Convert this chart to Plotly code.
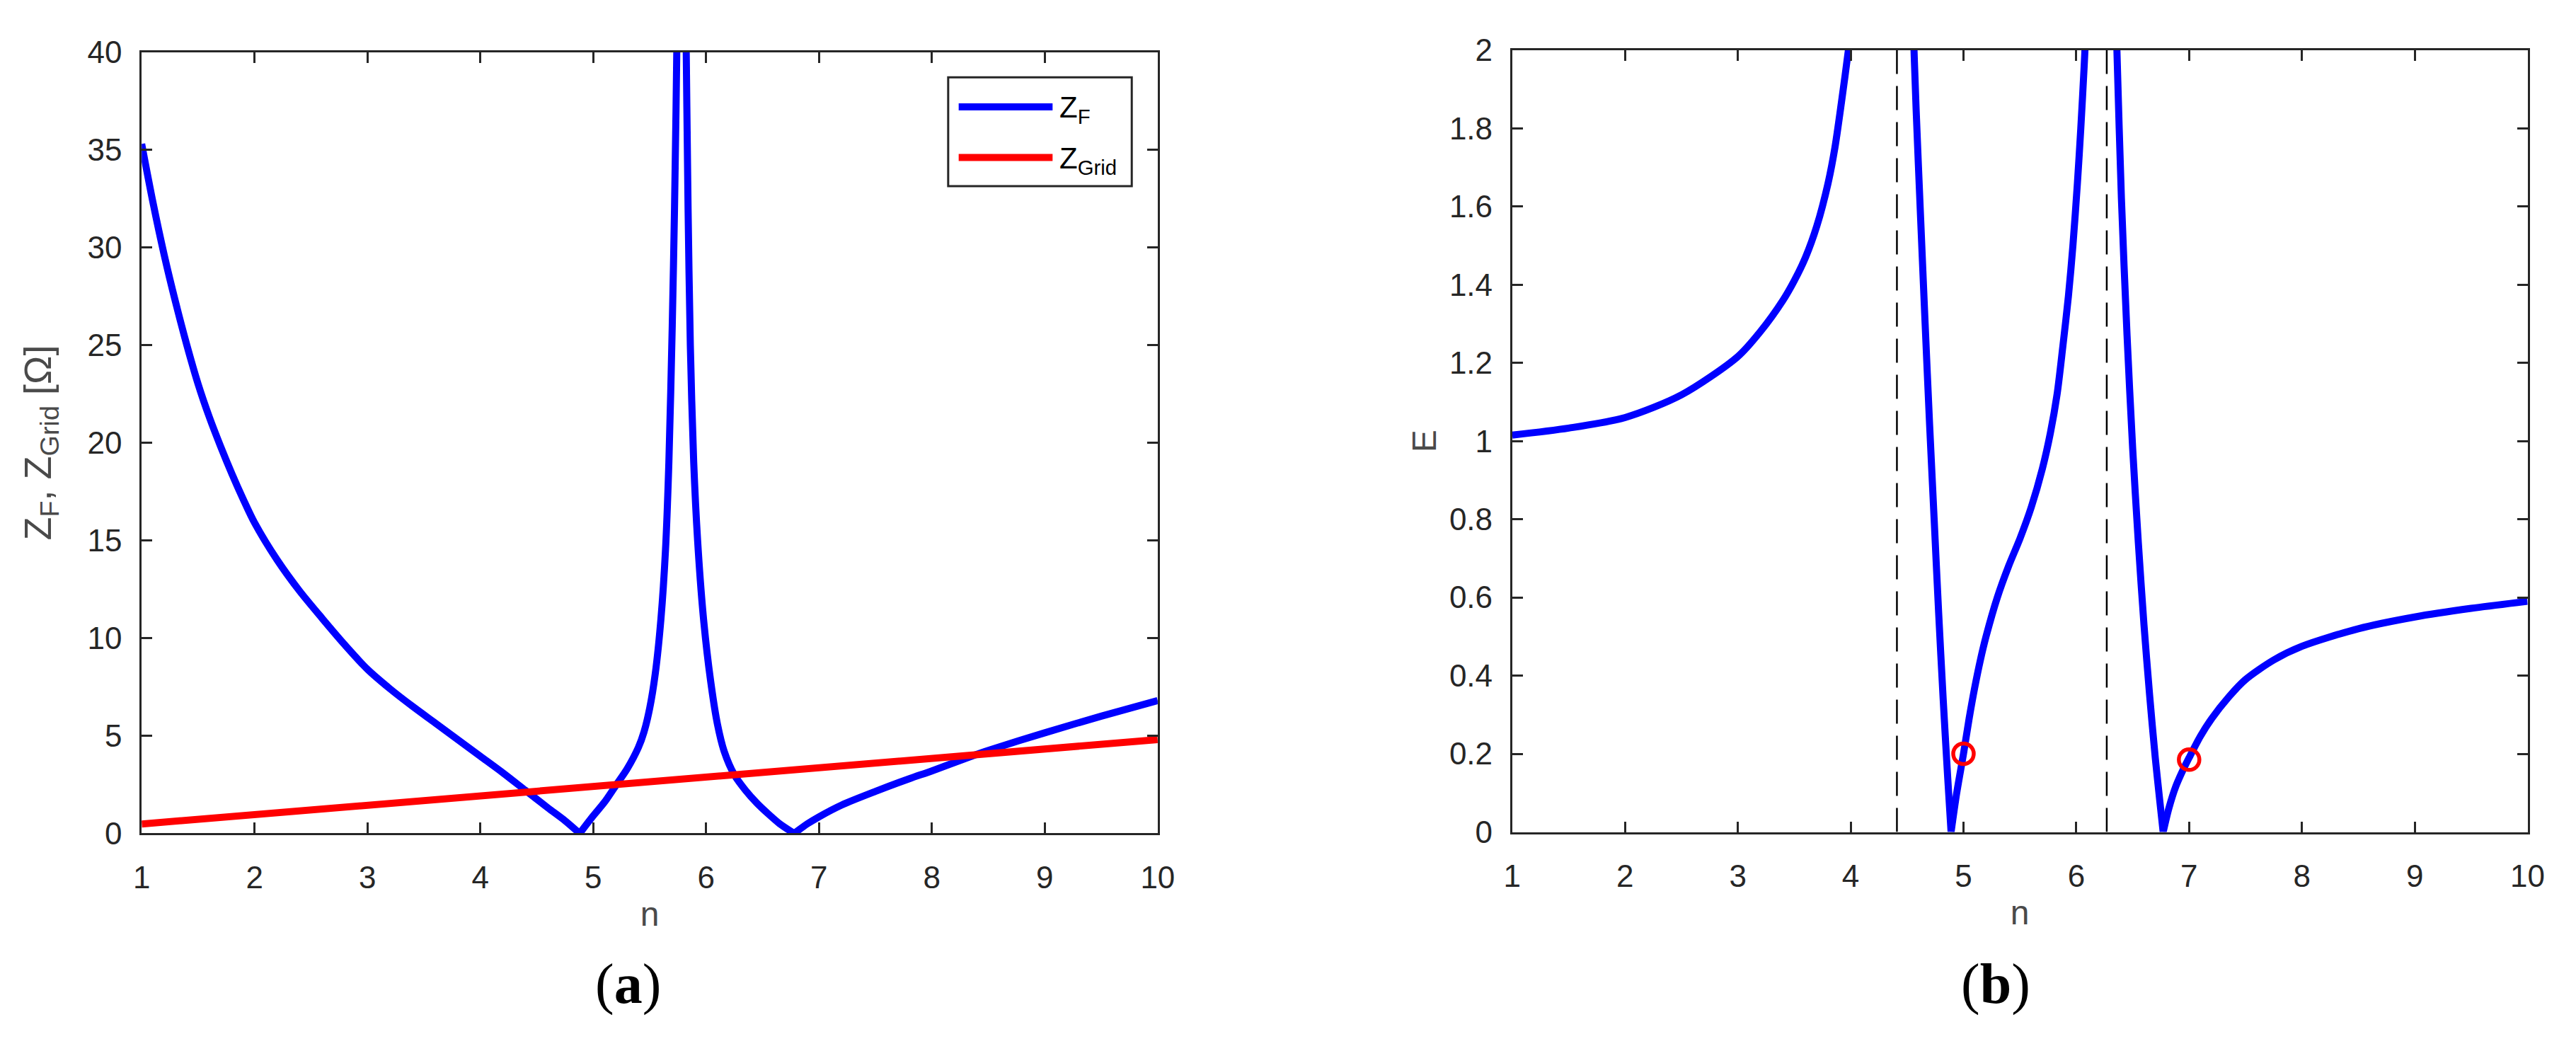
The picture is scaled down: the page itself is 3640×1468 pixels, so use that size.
import plotly.graph_objects as go

# ---- panel (a): impedances vs n ----
n_zf = [1.0, 1.1, 1.2, 1.3, 1.4, 1.5, 1.6, 1.7, 1.8, 1.9, 2.0, 2.2, 2.4, 2.6, 2.8, 3.0, 3.2, 3.4, 3.6, 3.8,
        4.0, 4.2, 4.4, 4.6, 4.75, 4.88,
        5.0, 5.1, 5.2, 5.3, 5.4, 5.45, 5.5, 5.55, 5.6, 5.64, 5.67, 5.70, 5.72, 5.74, 5.77,
        5.80, 5.82, 5.84, 5.86, 5.89, 5.93, 5.98, 6.04, 6.1, 6.16, 6.25, 6.35, 6.45, 6.55, 6.65, 6.78,
        6.9, 7.0, 7.2, 7.5, 7.8, 8.0, 8.35, 8.5, 9.0, 9.5, 10.0]
z_f = [35.3, 32.3, 29.6, 27.2, 25.0, 23.0, 21.3, 19.8, 18.4, 17.1, 15.9, 14.0, 12.4, 11.0, 9.65, 8.4, 7.4,
       6.5, 5.65, 4.8, 3.95, 3.1, 2.2, 1.3, 0.65, 0.0,
       0.9, 1.6, 2.45, 3.3, 4.4, 5.2, 6.4, 8.2, 11.0, 14.5, 19.0, 26.0, 32.0, 40.0, 60.0,
       52.0, 42.0, 32.0, 25.0, 19.0, 14.5, 10.8, 7.8, 5.6, 4.2, 3.0, 2.2, 1.55, 1.0, 0.5, 0.0,
       0.5, 0.85, 1.45, 2.15, 2.8, 3.2, 3.95, 4.25, 5.15, 6.0, 6.8]

n_grid = [1, 2, 3, 4, 5, 6, 7, 8, 9, 10]
z_grid = [0.48, 0.96, 1.44, 1.92, 2.40, 2.88, 3.36, 3.84, 4.32, 4.80]

# ---- panel (b): E vs n ----
n_e1 = [1.0, 1.5, 2.0, 2.5, 3.0, 3.2, 3.4, 3.5, 3.6, 3.7, 3.8, 3.86, 3.92, 3.98, 4.02]
e_1 = [1.015, 1.033, 1.06, 1.118, 1.216, 1.28, 1.36, 1.41, 1.47, 1.55, 1.66, 1.75, 1.87, 2.0, 2.1]
n_e2 = [4.53, 4.55, 4.58, 4.62, 4.66, 4.70, 4.74, 4.78, 4.82, 4.86, 4.89,
        4.94, 5.0, 5.05, 5.1, 5.15, 5.2, 5.3, 5.4, 5.5, 5.6, 5.7, 5.77, 5.83, 5.88, 5.93, 5.97,
        6.01, 6.04, 6.07, 6.09]
e_2 = [2.3, 2.1, 1.85, 1.57, 1.3, 1.04, 0.8, 0.56, 0.34, 0.14, 0.0,
       0.1, 0.2, 0.29, 0.37, 0.44, 0.5, 0.6, 0.68, 0.75, 0.83, 0.93, 1.02, 1.12, 1.24, 1.37, 1.5,
       1.66, 1.8, 1.96, 2.08]
n_e3 = [6.34, 6.36, 6.40, 6.45, 6.50, 6.55, 6.60, 6.65, 6.70, 6.74, 6.77,
        6.82, 6.88, 6.94, 7.0, 7.1, 7.2, 7.35, 7.5, 7.75, 8.0, 8.5, 9.0, 9.5, 10.0]
e_3 = [2.2, 2.0, 1.62, 1.27, 0.98, 0.74, 0.53, 0.35, 0.19, 0.08, 0.0,
       0.06, 0.115, 0.155, 0.19, 0.245, 0.29, 0.345, 0.39, 0.44, 0.475, 0.52, 0.55, 0.572, 0.59]

n_marks = [5.0, 7.0]
e_marks = [0.2, 0.185]

n_dash = [4.41, 6.27]

BLUE = "#0000ff"
RED = "#ff0000"
AX = "#262626"
W, H = 3640, 1468


def pieces(xs, ys):
    # cut a curve at its cusps (zeros) and at its peak so every piece stays smooth
    ymax = max(ys)
    cuts = [i for i, v in enumerate(ys) if (v == 0 or v == ymax) and 0 < i < len(ys) - 1]
    out, s = [], 0
    for c in cuts:
        out.append((xs[s:c + 1], ys[s:c + 1]))
        s = c
    out.append((xs[s:], ys[s:]))
    return out


fig = go.Figure()

for px_, py_ in pieces(n_zf, z_f):
    fig.add_trace(go.Scatter(x=px_, y=py_, mode="lines",
                             line=dict(color=BLUE, width=10, shape="spline", smoothing=0.8),
                             xaxis="x", yaxis="y", showlegend=False))
fig.add_trace(go.Scatter(x=n_grid, y=z_grid, mode="lines", line=dict(color=RED, width=10),
                         xaxis="x", yaxis="y", showlegend=False))

for xd in n_dash:
    fig.add_trace(go.Scatter(x=[xd, xd], y=[0, 2], mode="lines",
                             line=dict(color="#000000", width=2.5, dash="34px,17px"),
                             xaxis="x2", yaxis="y2", showlegend=False))

for nn, ee in [(n_e1, e_1), (n_e2, e_2), (n_e3, e_3)]:
    for px_, py_ in pieces(nn, ee):
        fig.add_trace(go.Scatter(x=px_, y=py_, mode="lines",
                                 line=dict(color=BLUE, width=10, shape="spline", smoothing=0.8),
                                 xaxis="x2", yaxis="y2", showlegend=False))

fig.add_trace(go.Scatter(x=n_marks, y=e_marks, mode="markers",
                         marker=dict(symbol="circle-open", size=29, color=RED, line=dict(width=5.5)),
                         xaxis="x2", yaxis="y2", showlegend=False))

tickfont = dict(family="Liberation Sans, Arial", size=44, color=AX)
titlefont = dict(family="Liberation Sans, Arial", size=54, color="#4a4a4a")
common = dict(showline=True, linewidth=3, linecolor=AX, mirror="ticks", ticks="inside",
              ticklen=15, tickwidth=2.5, tickcolor=AX, showgrid=False, zeroline=False,
              tickfont=tickfont)

fig.update_layout(
    width=W, height=H, margin=dict(l=0, r=0, t=0, b=0),
    paper_bgcolor="white", plot_bgcolor="white",
    xaxis=dict(common, domain=[182 / W, 1632 / W], range=[1, 10], tickvals=n_grid,
               ticklabelstandoff=22, anchor="y",
               title=dict(text="n", font=dict(titlefont, size=48), standoff=12)),
    yaxis=dict(common, domain=[1 - 1184 / H, 1 - 42 / H], range=[0, 40], dtick=5,
               ticklabelstandoff=16, anchor="x",
               title=dict(text="Z<sub>F</sub>, Z<sub>Grid</sub> [Ω]", font=titlefont, standoff=34)),
    xaxis2=dict(common, domain=[2138 / W, 3587 / W], range=[1, 10], tickvals=n_grid,
                ticklabelstandoff=22, anchor="y2",
                title=dict(text="n", font=dict(titlefont, size=48), standoff=12)),
    yaxis2=dict(common, domain=[1 - 1182 / H, 1 - 39 / H], range=[0, 2], dtick=0.2,
                ticklabelstandoff=16, anchor="x2",
                title=dict(text="E", font=dict(titlefont, size=48), standoff=4)),
)

# legend of panel (a), drawn by hand to match the long line samples
fig.add_shape(type="rect", xref="paper", yref="paper",
              x0=1333 / W, x1=1595 / W, y0=1 - 238 / H, y1=1 - 79 / H,
              line=dict(color=AX, width=3), fillcolor="white")
for ly, col, lab in [(122, BLUE, "Z<sub>F</sub>"), (196, RED, "Z<sub>Grid</sub>")]:
    fig.add_shape(type="line", xref="paper", yref="paper",
                  x0=1348 / W, x1=1482 / W, y0=1 - ly / H, y1=1 - ly / H,
                  line=dict(color=col, width=10))
    fig.add_annotation(xref="paper", yref="paper", x=1490 / W, y=1 - (ly + 4) / H,
                       text=lab, showarrow=False, xanchor="left", yanchor="middle",
                       font=dict(family="Liberation Sans, Arial", size=42, color="#000000"))

# sub-figure captions
for cx, lab in [(876, "a"), (2828, "b")]:
    fig.add_annotation(xref="paper", yref="paper", x=cx / W, y=1 - 1404 / H,
                       text="(<b>" + lab + "</b>)", showarrow=False,
                       xanchor="center", yanchor="middle",
                       font=dict(family="Liberation Serif, Times New Roman", size=80, color="#000000"))

fig.write_html("out.html")
